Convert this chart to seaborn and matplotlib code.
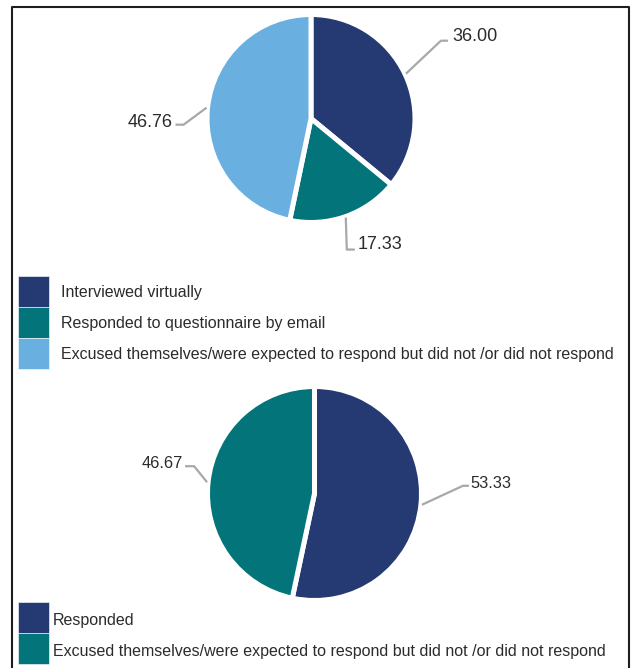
import matplotlib
matplotlib.use("Agg")
import matplotlib.pyplot as plt
from matplotlib.patches import Rectangle
import numpy as np
import seaborn as sns

# Participation breakdowns (%)
top_categories = [
    "Interviewed virtually",
    "Responded to questionnaire by email",
    "Excused themselves/were expected to respond but did not /or did not respond",
]
top_values = [36.00, 17.33, 46.76]
top_labels = ["36.00", "17.33", "46.76"]

bottom_categories = [
    "Responded",
    "Excused themselves/were expected to respond but did not /or did not respond",
]
bottom_values = [53.33, 46.67]
bottom_labels = ["53.33", "46.67"]

palette = sns.color_palette(["#253a72", "#03757a", "#69b0e1"])
top_colors = palette[:3]
bottom_colors = palette[:2]

sns.set_theme(style="white")
plt.rcParams["font.family"] = ["Liberation Sans", "DejaVu Sans"]

W, H = 631, 668
fig = plt.figure(figsize=(W / 100, H / 100), dpi=100)
ax = fig.add_axes([0, 0, 1, 1])

TEXT = "#2b2b2b"
LEADER = "#a8a8a8"


def P(x, y):
    """Pixel position (origin top-left) to axes data coordinates."""
    return x, H - y


def draw_pie(values, colors, labels, cx, cy, r, leaders, fontsize):
    wedges, _ = ax.pie(values, colors=colors, startangle=90, counterclock=False,
                       center=P(cx, cy), radius=r, normalize=True,
                       wedgeprops=dict(edgecolor="white", linewidth=3.6))
    for w, lab, (dx, dy, tail, ty, gap) in zip(wedges, labels, leaders):
        mid = np.deg2rad((w.theta1 + w.theta2) / 2)
        ax0, ay0 = cx + (r + 1) * np.cos(mid), cy - (r + 1) * np.sin(mid)
        ex, ey = ax0 + dx, ay0 + dy
        tx = ex + tail
        xs, ys = zip(P(ax0, ay0), P(ex, ey), P(tx, ey))
        ax.plot(xs, ys, color=LEADER, lw=1.6, solid_capstyle="butt", zorder=3)
        ha = "left" if tail > 0 else "right"
        ax.text(*P(tx + gap, ty), lab, ha=ha, va="baseline",
                fontsize=fontsize, color=TEXT)


def draw_key(categories, colors, x0, y0, size, text_x, fontsize, dy=5.5):
    for i, (cat, col) in enumerate(zip(categories, colors)):
        top = y0 + i * size
        ax.add_patch(Rectangle(P(x0, top + size), size, size, facecolor=col,
                               edgecolor="white", linewidth=0.4, zorder=2))
        ax.text(*P(text_x, top + size / 2 + dy), cat, ha="left", va="baseline",
                fontsize=fontsize, color=TEXT)


# upper pie
draw_pie(top_values, top_colors, top_labels, 311, 118.5, 104,
         [(35, -33, 7, 41, 4), (1, 32, 8, 249, 3), (-23, 17, -8, 127, -3)], 13)
draw_key(top_categories, top_colors, 18, 276, 31, 61, 11.55, dy=5.5)

# lower pie
draw_pie(bottom_values, bottom_colors, bottom_labels, 314.5, 493.5, 107,
         [(41, -19, 6, 488, 1), (-13, -16, -9, 468, -2)], 11.8)
draw_key(bottom_categories, bottom_colors, 18, 602, 31, 53, 11.5, dy=7.5)

# frame around the panel
bx, by = zip(P(11.5, H + 5), P(11.5, 6.5), P(628.5, 6.5), P(628.5, H + 5))
ax.plot(bx, by, color="#1e1e1e", lw=1.5, zorder=4)

ax.set_xlim(0, W)
ax.set_ylim(0, H)
ax.set_aspect("equal", adjustable="box")
ax.axis("off")

fig.savefig("out.png", dpi=100)
